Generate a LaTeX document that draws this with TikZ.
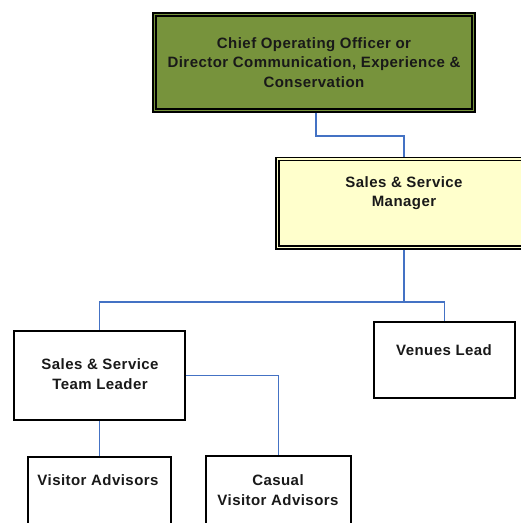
\documentclass[tikz,border=0pt]{standalone}
\usepackage{fontspec}
\setmainfont{Liberation Sans}[LetterSpace=3]
\definecolor{olive}{HTML}{77933C}
\definecolor{paleyellow}{HTML}{FFFFCC}
\definecolor{linkblue}{HTML}{4472C4}
\begin{document}
\begin{tikzpicture}[x=1pt,y=-1pt,
  box/.style={draw=black, line width=1.6pt, fill=white, inner sep=0pt, rectangle},
  dblbox/.style={draw=black, line width=1.8pt, inner sep=0pt, rectangle},
  lbl/.style={font=\bfseries\fontsize{15}{19.5}\selectfont, align=center, inner sep=0pt, text=black!90},
  link/.style={draw=linkblue, line width=1.5pt}]
\useasboundingbox (0,0) rectangle (521,523);
\begin{scope}
\clip (0,0) rectangle (521,523);
% boxes
\node[dblbox, fill=olive, minimum width=322pt, minimum height=99pt] (ceo) at (314,62.5) {};
\draw[line width=1.4pt] ([shift={(4,4)}]ceo.north west) rectangle ([shift={(-4,-4)}]ceo.south east);
\node[dblbox, fill=paleyellow, minimum width=256pt, minimum height=91.5pt] (mgr) at (404,203.25) {};
\draw[line width=1.4pt] ([shift={(4,4)}]mgr.north west) rectangle ([shift={(-4,-4)}]mgr.south east);
\node[box, minimum width=171pt, minimum height=89pt] (tl) at (99.5,375.5) {};
\node[box, minimum width=141pt, minimum height=76pt] (vl) at (444.5,360) {};
\node[box, minimum width=143pt, minimum height=90pt] (va) at (99.5,502) {};
\node[box, minimum width=145pt, minimum height=90pt] (cva) at (278.5,501) {};
% texts
\node[lbl] (ceot) at (314,62.5) {Chief Operating Officer or\\Director Communication, Experience \&\\Conservation};
\node[lbl] (mgrt) at (404,193) {Sales \& Service\\Manager};
\node[lbl] (tlt) at (100,374) {Sales \& Service\\Team Leader};
\node[lbl] (vlt) at (444,350) {Venues Lead};
\node[lbl] (vat) at (98,480) {Visitor Advisors};
\node[lbl] (cvat) at (278,490) {Casual\\Visitor Advisors};
% connectors
\draw[link] ([xshift=2pt]ceo.south) -- ++(0,23) -| (mgr.north);
\draw[link] (mgr.south) -- ++(0,52) coordinate (bus);
\draw[link] (bus) -| (tl.north);
\draw[link] (bus) -| (vl.north);
\draw[link] (tl.east) -| (cva.north);
\draw[link] (tl.south) -- (va.north);
\end{scope}
\end{tikzpicture}
\end{document}
